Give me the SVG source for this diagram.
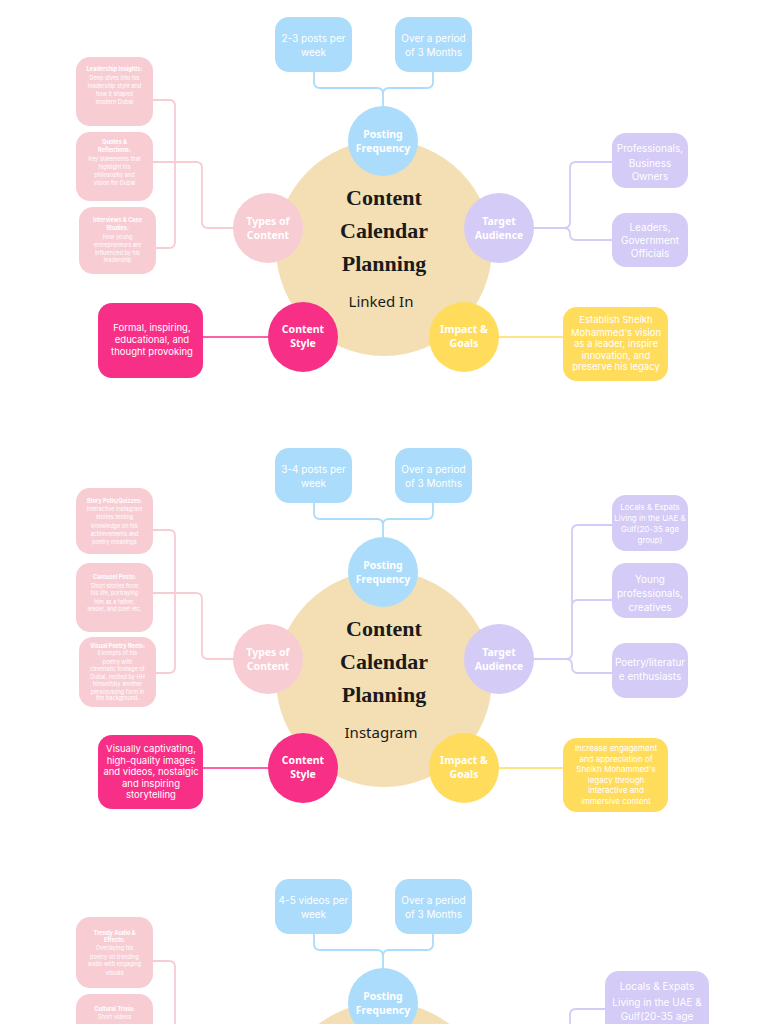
<svg xmlns="http://www.w3.org/2000/svg" width="768" height="1024" viewBox="0 0 768 1024">
<defs>
<style>
.bb{fill:#abdcfb}
.bl{fill:#d4cbf6}
.bp{fill:#f8ccd3}
.bh{fill:#f72f86}
.by{fill:#ffdc5c}
.big{fill:#f3dfb3}
.ln{fill:none;stroke-width:1.8;stroke-linecap:round}
.lb{stroke:#abdcfb}
.ll{stroke:#d4cbf6}
.lp{stroke:#f8ccd3}
.lh{stroke:#f72f86;stroke-width:1.3}
.ly{stroke:#ffdc5c;stroke-width:1.3}
.t{font-family:Inter,"Noto Sans",sans-serif;fill:#fff;text-anchor:middle}
.t10{font-size:10px}
.t9{font-size:9.5px}
.t8{font-size:8px}
.ts{font-size:5.6px}
.tsb{font-size:5.6px;font-weight:700}
.cl{font-family:"Noto Sans",sans-serif;font-weight:700;font-size:10.5px;fill:#fff;text-anchor:middle}
.tt{font-family:"Liberation Serif",serif;font-weight:700;font-size:22px;fill:#1a1a1a;text-anchor:middle}
.sub{font-family:"Noto Sans",sans-serif;font-size:15px;fill:#1a1a1a;text-anchor:middle}
</style>
</defs>
<rect width="768" height="1024" fill="#fff"/>

<!-- SECTION 1 -->
<g id="sec1">
<g id="s1-connectors" class="ln">
<path class="ln lb" d="M314,72 V82 Q314,88 320,88 H377 Q383,88 383,94 V106 M433,72 V82 Q433,88 427,88 H389 Q383,88 383,94"/>
<path class="ln lp" d="M153,100 H169 Q175,100 175,106 V242 Q175,248 169,248 H156 M153,162 H196 Q202,162 202,168 V222 Q202,228 208,228 H233"/>
<path class="ln ll" d="M534,228 H564 Q570,228 570,222 V168 Q570,162 576,162 H612 M564,228 Q570,228 570,234 Q570,240 576,240 H612"/>
<path class="ln lh" d="M203,337 H268"/>
<path class="ln ly" d="M499,337 H564"/>
</g>
<g id="s1-center"><circle class="big" cx="384" cy="248" r="108"/>
<text class="tt" x="384" y="205">Content</text><text class="tt" x="384" y="238">Calendar</text><text class="tt" x="384" y="271">Planning</text>
<text class="sub" x="381" y="307">Linked In</text></g>
<g id="s1-freq-a"><rect class="bb" x="275" y="17" width="77" height="55" rx="14"/><text class="t t10" x="313.5" y="42">2-3 posts per</text><text class="t t10" x="313.5" y="56">week</text></g>
<g id="s1-freq-b"><rect class="bb" x="395" y="17" width="77" height="55" rx="14"/><text class="t t10" x="433.5" y="42">Over a period</text><text class="t t10" x="433.5" y="56">of 3 Months</text></g>
<g id="s1-posting"><circle class="bb" cx="383" cy="141" r="35"/><text class="cl" x="383" y="138">Posting</text><text class="cl" x="383" y="152">Frequency</text></g>
<g id="s1-types"><circle class="bp" cx="268" cy="228" r="35"/><text class="cl" x="268" y="225">Types of</text><text class="cl" x="268" y="239">Content</text></g>
<g id="s1-target"><circle class="bl" cx="499" cy="228" r="35"/><text class="cl" x="499" y="225">Target</text><text class="cl" x="499" y="239">Audience</text></g>
<g id="s1-style"><circle class="bh" cx="303" cy="337" r="35"/><text class="cl" x="303" y="333">Content</text><text class="cl" x="303" y="347">Style</text></g>
<g id="s1-impact"><circle class="by" cx="464" cy="337" r="35"/><text class="cl" x="464" y="333">Impact &amp;</text><text class="cl" x="464" y="347">Goals</text></g>
<g id="s1-leadership"><rect class="bp" x="76" y="57" width="77" height="69" rx="14"/>
<text class="t tsb" x="114.5" y="71">Leadership Insights:</text><text class="t ts" x="114.5" y="80">Deep dives into his</text><text class="t ts" x="114.5" y="88">leadership style and</text><text class="t ts" x="114.5" y="96">how it shaped</text><text class="t ts" x="114.5" y="104">modern Dubai</text></g>
<g id="s1-quotes"><rect class="bp" x="76" y="132" width="77" height="69" rx="14"/>
<text class="t tsb" x="114.5" y="144">Quotes &amp;</text><text class="t tsb" x="114.5" y="152">Reflections:</text><text class="t ts" x="114.5" y="161">Key statements that</text><text class="t ts" x="114.5" y="169">highlight his</text><text class="t ts" x="114.5" y="177">philosophy and</text><text class="t ts" x="114.5" y="185">vision for Dubai</text></g>
<g id="s1-interviews"><rect class="bp" x="79" y="207" width="77" height="67" rx="14"/>
<text class="t tsb" x="117.5" y="222">Interviews &amp; Case</text><text class="t tsb" x="117.5" y="230">Studies:</text><text class="t ts" x="117.5" y="239">How young</text><text class="t ts" x="117.5" y="247">entrepreneurs are</text><text class="t ts" x="117.5" y="255">influenced by his</text><text class="t ts" x="117.5" y="262">leadership</text></g>
<g id="s1-professionals"><rect class="bl" x="612" y="133" width="76" height="55" rx="14"/><text class="t t10" x="650" y="152">Professionals,</text><text class="t t10" x="650" y="167">Business</text><text class="t t10" x="650" y="180">Owners</text></g>
<g id="s1-leaders"><rect class="bl" x="612" y="213" width="76" height="54" rx="14"/><text class="t t10" x="650" y="231">Leaders,</text><text class="t t10" x="650" y="244">Government</text><text class="t t10" x="650" y="257">Officials</text></g>
<g id="s1-style-box"><rect class="bh" x="98" y="303" width="105" height="75" rx="14"/><text class="t t9" x="152" y="331">Formal, inspiring,</text><text class="t t9" x="152" y="343">educational, and</text><text class="t t9" x="152" y="355">thought provoking</text></g>
<g id="s1-impact-box"><rect class="by" x="563" y="307" width="105" height="74" rx="14"/><text class="t t9" x="616" y="323">Establish Sheikh</text><text class="t t9" x="616" y="336">Mohammed's vision</text><text class="t t9" x="616" y="347">as a leader, inspire</text><text class="t t9" x="616" y="359">innovation, and</text><text class="t t9" x="616" y="370">preserve his legacy</text></g>
</g>

<!-- SECTION 2 -->
<g id="sec2" transform="translate(0,431)">
<g id="s2-connectors" class="ln">
<path class="ln lb" d="M314,72 V82 Q314,88 320,88 H377 Q383,88 383,94 V106 M433,72 V82 Q433,88 427,88 H389 Q383,88 383,94"/>
<path class="ln lp" d="M153,99 H169 Q175,99 175,105 V236 Q175,242 169,242 H156 M153,162 H196 Q202,162 202,168 V222 Q202,228 208,228 H233"/>
<path class="ln ll" d="M534,228 H566 Q572,228 572,222 V100 Q572,94 578,94 H612 M572,175 Q572,169 578,169 H612 M566,228 Q572,228 572,234 V236 Q572,242 578,242 H612"/>
<path class="ln lh" d="M203,337 H268"/>
<path class="ln ly" d="M499,337 H564"/>
</g>
<g id="s2-center"><circle class="big" cx="384" cy="248" r="108"/>
<text class="tt" x="384" y="205">Content</text><text class="tt" x="384" y="238">Calendar</text><text class="tt" x="384" y="271">Planning</text>
<text class="sub" x="381" y="307">Instagram</text></g>
<g id="s2-freq-a"><rect class="bb" x="275" y="17" width="77" height="55" rx="14"/><text class="t t10" x="313.5" y="42">3-4 posts per</text><text class="t t10" x="313.5" y="56">week</text></g>
<g id="s2-freq-b"><rect class="bb" x="395" y="17" width="77" height="55" rx="14"/><text class="t t10" x="433.5" y="42">Over a period</text><text class="t t10" x="433.5" y="56">of 3 Months</text></g>
<g id="s2-posting"><circle class="bb" cx="383" cy="141" r="35"/><text class="cl" x="383" y="138">Posting</text><text class="cl" x="383" y="152">Frequency</text></g>
<g id="s2-types"><circle class="bp" cx="268" cy="228" r="35"/><text class="cl" x="268" y="225">Types of</text><text class="cl" x="268" y="239">Content</text></g>
<g id="s2-target"><circle class="bl" cx="499" cy="228" r="35"/><text class="cl" x="499" y="225">Target</text><text class="cl" x="499" y="239">Audience</text></g>
<g id="s2-style"><circle class="bh" cx="303" cy="337" r="35"/><text class="cl" x="303" y="333">Content</text><text class="cl" x="303" y="347">Style</text></g>
<g id="s2-impact"><circle class="by" cx="464" cy="337" r="35"/><text class="cl" x="464" y="333">Impact &amp;</text><text class="cl" x="464" y="347">Goals</text></g>
<g id="s2-polls"><rect class="bp" x="76" y="57" width="77" height="66" rx="14"/>
<text class="t tsb" x="114.5" y="72">Story Polls/Quizzes:</text><text class="t ts" x="114.5" y="80">Interactive Instagram</text><text class="t ts" x="114.5" y="88">stories testing</text><text class="t ts" x="114.5" y="97">knowledge on his</text><text class="t ts" x="114.5" y="105">achievements and</text><text class="t ts" x="114.5" y="113">poetry meanings</text></g>
<g id="s2-carousel"><rect class="bp" x="76" y="132" width="77" height="69" rx="14"/>
<text class="t tsb" x="114.5" y="148">Carousel Posts:</text><text class="t ts" x="114.5" y="157">Short stories from</text><text class="t ts" x="114.5" y="164">his life, portraying</text><text class="t ts" x="114.5" y="173">him as a father,</text><text class="t ts" x="114.5" y="180">leader, and poet etc.</text></g>
<g id="s2-reels"><rect class="bp" x="79" y="206" width="77" height="70" rx="14"/>
<text class="t tsb" x="117.5" y="217">Visual Poetry Reels:</text><text class="t ts" x="117.5" y="224">Excerpts of his</text><text class="t ts" x="117.5" y="233">poetry with</text><text class="t ts" x="117.5" y="240">cinematic footage of</text><text class="t ts" x="117.5" y="248">Dubai, recited by HH</text><text class="t ts" x="117.5" y="255">himself/by another</text><text class="t ts" x="117.5" y="263">person/song form in</text><text class="t ts" x="117.5" y="269">the background.</text></g>
<g id="s2-locals"><rect class="bl" x="612" y="64" width="76" height="56" rx="14"/><text class="t t8" x="650" y="79">Locals &amp; Expats</text><text class="t t8" x="650" y="90">Living in the UAE &amp;</text><text class="t t8" x="650" y="101">Gulf(20-35 age</text><text class="t t8" x="650" y="112">group)</text></g>
<g id="s2-young"><rect class="bl" x="612" y="132" width="76" height="55" rx="14"/><text class="t t10" x="650" y="152">Young</text><text class="t t10" x="650" y="166">professionals,</text><text class="t t10" x="650" y="180">creatives</text></g>
<g id="s2-poetry"><rect class="bl" x="612" y="212" width="76" height="55" rx="14"/><text class="t t10" x="650" y="235">Poetry/literatur</text><text class="t t10" x="650" y="249">e enthusiasts</text></g>
<g id="s2-style-box"><rect class="bh" x="98" y="304" width="105" height="74" rx="14"/><text class="t t9" x="151" y="321">Visually captivating,</text><text class="t t9" x="151" y="333">high-quality images</text><text class="t t9" x="151" y="344">and videos, nostalgic</text><text class="t t9" x="151" y="356">and inspiring</text><text class="t t9" x="151" y="367">storytelling</text></g>
<g id="s2-impact-box"><rect class="by" x="563" y="307" width="105" height="74" rx="14"/><text class="t t8" x="616" y="320">Increase engagement</text><text class="t t8" x="616" y="331">and appreciation of</text><text class="t t8" x="616" y="341">Sheikh Mohammed's</text><text class="t t8" x="616" y="352">legacy through</text><text class="t t8" x="616" y="362">interactive and</text><text class="t t8" x="616" y="373">immersive content</text></g>
</g>

<!-- SECTION 3 -->
<g id="sec3" transform="translate(0,862)">
<g id="s3-connectors" class="ln">
<path class="ln lb" d="M314,72 V82 Q314,88 320,88 H377 Q383,88 383,94 V106 M433,72 V82 Q433,88 427,88 H389 Q383,88 383,94"/>
<path class="ln lp" d="M153,99 H169 Q175,99 175,105 V200"/>
<path class="ln ll" d="M605,147 H576 Q570,147 570,153 V200"/>
</g>
<g id="s3-center"><circle class="big" cx="384" cy="248" r="108"/></g>
<g id="s3-freq-a"><rect class="bb" x="275" y="17" width="77" height="55" rx="14"/><text class="t t10" x="313.5" y="42">4-5 videos per</text><text class="t t10" x="313.5" y="56">week</text></g>
<g id="s3-freq-b"><rect class="bb" x="395" y="17" width="77" height="55" rx="14"/><text class="t t10" x="433.5" y="42">Over a period</text><text class="t t10" x="433.5" y="56">of 3 Months</text></g>
<g id="s3-posting"><circle class="bb" cx="383" cy="141" r="35"/><text class="cl" x="383" y="138">Posting</text><text class="cl" x="383" y="152">Frequency</text></g>
<g id="s3-trendy"><rect class="bp" x="76" y="55" width="77" height="71" rx="14"/>
<text class="t tsb" x="114.5" y="73">Trendy Audio &amp;</text><text class="t tsb" x="114.5" y="80">Effects:</text><text class="t ts" x="114.5" y="88">Overlaying his</text><text class="t ts" x="114.5" y="97">poetry on trending</text><text class="t ts" x="114.5" y="104">audio with engaging</text><text class="t ts" x="114.5" y="113">visuals</text></g>
<g id="s3-trivia"><rect class="bp" x="76" y="132" width="77" height="69" rx="14"/>
<text class="t tsb" x="114.5" y="149">Cultural Trivia:</text><text class="t ts" x="114.5" y="157">Short videos</text></g>
<g id="s3-locals"><rect class="bl" x="605" y="109" width="104" height="70" rx="14"/><text class="t t10" x="657" y="128">Locals &amp; Expats</text><text class="t t10" x="657" y="144">Living in the UAE &amp;</text><text class="t t10" x="657" y="158">Gulf(20-35 age</text></g>
</g>
</svg>
